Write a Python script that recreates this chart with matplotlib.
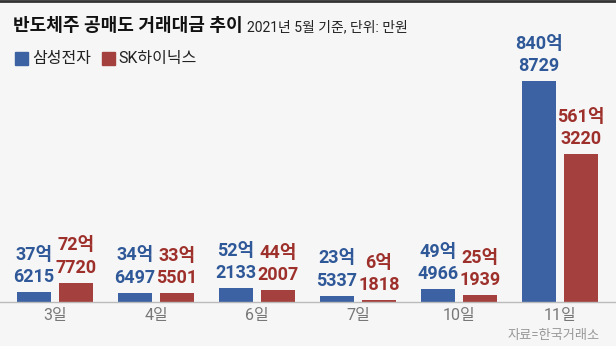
import matplotlib
matplotlib.use("Agg")
import matplotlib.pyplot as plt
import numpy as np

# values in 만원 (e.g. 376215 -> 37억 6215)
dates = ["3일", "4일", "6일", "7일", "10일", "11일"]
samsung = [376215, 346497, 522133, 235337, 494966, 8408729]
hynix = [727720, 335501, 442007, 61818, 251939, 5613220]
series_names = ["삼성전자", "SK하이닉스"]

BLUE = "#3d62a3"
RED = "#a4403d"
BLUE_TXT = "#2f5898"
RED_TXT = "#9e302c"
BG = "#f6f6f6"
FONT = ["Roboto", "Noto Sans CJK KR", "DejaVu Sans"]

plt.rcParams["font.family"] = FONT


def label_text(v):
    return f"{v // 10000}억\n{v % 10000}"


def main():
    fig = plt.figure(figsize=(6.16, 3.46), dpi=100)
    fig.patch.set_facecolor(BG)

    ax = fig.add_axes([0, 44 / 346, 1, 302 / 346])
    ax.set_facecolor(BG)

    x = np.arange(len(dates))
    w = 0.337
    off = 0.208
    s_vals = np.array(samsung) / 10000
    h_vals = np.array(hynix) / 10000
    ax.bar(x - off, s_vals, w, color=BLUE)
    ax.bar(x + off, h_vals, w, color=RED)

    for xi, v, raw in zip(x - off, s_vals, samsung):
        ax.annotate(label_text(raw), (xi, v), xytext=(0, 4.5), textcoords="offset points",
                    ha="center", va="bottom", fontsize=13, fontweight="bold",
                    color=BLUE_TXT, linespacing=1.3)
    for xi, v, raw in zip(x + off, h_vals, hynix):
        ax.annotate(label_text(raw), (xi, v), xytext=(0, 4.5), textcoords="offset points",
                    ha="center", va="bottom", fontsize=13, fontweight="bold",
                    color=RED_TXT, linespacing=1.3)

    ax.set_xlim(-0.545, 5.554)
    ax.set_ylim(0, 1149)
    ax.set_xticks(x)
    ax.set_xticklabels(dates, fontsize=11.5, color="#777777")
    ax.tick_params(axis="x", length=0, pad=4)
    ax.set_yticks([])
    for side in ["top", "left", "right"]:
        ax.spines[side].set_visible(False)
    ax.spines["bottom"].set_color("#bbbbbb")
    ax.spines["bottom"].set_linewidth(1.0)

    # top border
    fig.add_artist(plt.Line2D([0, 1], [0.997, 0.997], color="#333333", linewidth=2.0))

    fig.text(13 / 616, 1 - 26 / 346, "반도체주 공매도 거래대금 추이", fontsize=13,
             fontweight="bold", color="#111111", va="center", ha="left")
    fig.text(247 / 616, 1 - 27 / 346, "2021년 5월 기준, 단위: 만원", fontsize=10,
             color="#222222", va="center", ha="left")

    # legend
    fig.patches.append(plt.Rectangle((15 / 616, 1 - 65 / 346), 13 / 616, 13 / 346,
                                     transform=fig.transFigure, color=BLUE))
    fig.text(32 / 616, 1 - 59 / 346, series_names[0], fontsize=11.5, color="#222222",
             va="center", ha="left")
    fig.patches.append(plt.Rectangle((102 / 616, 1 - 65 / 346), 13 / 616, 13 / 346,
                                     transform=fig.transFigure, color=RED))
    fig.text(118 / 616, 1 - 59 / 346, series_names[1], fontsize=11.5, color="#222222",
             va="center", ha="left")

    fig.text(600 / 616, 1 - 335 / 346, "자료=한국거래소", fontsize=9.5, color="#999999",
             va="center", ha="right")

    fig.savefig("out.png", dpi=100, facecolor=BG)
    plt.close(fig)


if __name__ == "__main__":
    main()
